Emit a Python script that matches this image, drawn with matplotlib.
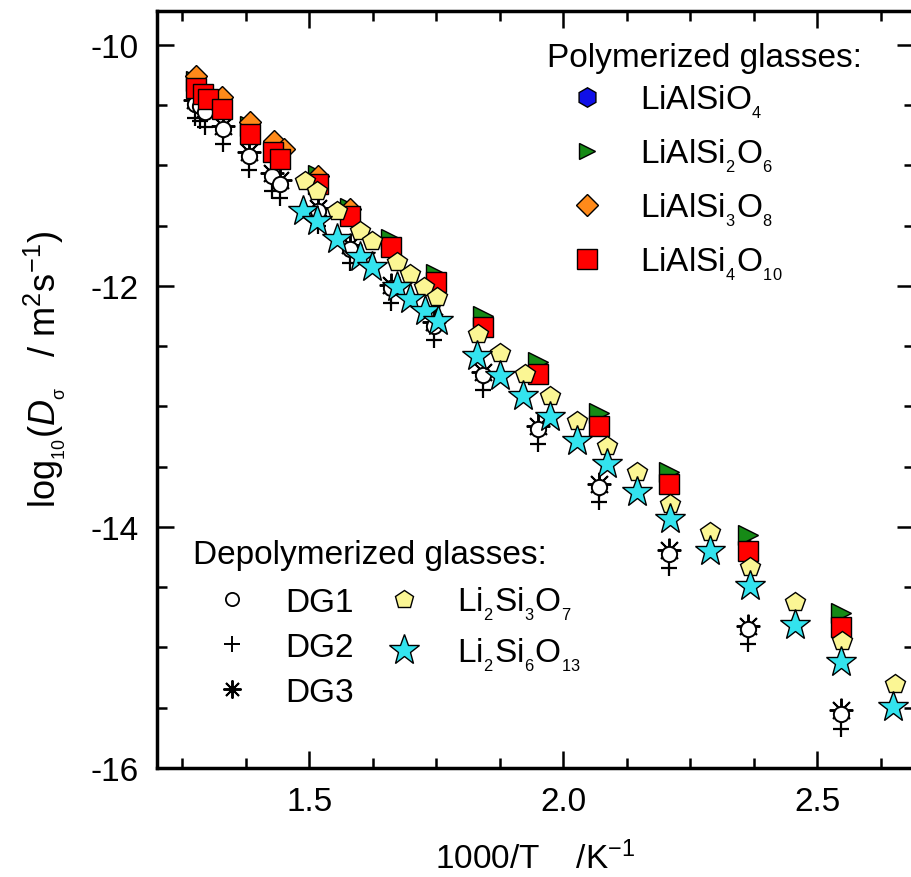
import matplotlib
matplotlib.use('Agg')
import matplotlib.pyplot as plt
from matplotlib.lines import Line2D
from matplotlib.ticker import MultipleLocator

plt.rcParams['font.family'] = ['Liberation Sans', 'DejaVu Sans']
plt.rcParams['mathtext.fontset'] = 'custom'
plt.rcParams['mathtext.rm'] = 'Liberation Sans'
plt.rcParams['mathtext.it'] = 'Liberation Sans:italic'
plt.rcParams['mathtext.default'] = 'regular'
plt.rcParams['axes.unicode_minus'] = False

# polymerized glasses
x_poly = [1.277, 1.328, 1.383, 1.443, 1.517, 1.580, 1.660, 1.750, 1.842, 1.950, 2.070, 2.207, 2.363, 2.546]
y_lialsio4 = [-10.32, -10.50, -10.71, -10.88, -11.13, -11.40, -11.66, -11.95, -12.32, -12.71, -13.14, -13.62, -14.18, -14.81]
y_lialsi2o6 = [-10.30, -10.46, -10.67, -10.84, -11.08, -11.35, -11.61, -11.90, -12.25, -12.63, -13.05, -13.54, -14.07, -14.71]
x_lialsi3o8 = [1.277, 1.328, 1.383, 1.430, 1.450, 1.517, 1.580]
y_lialsi3o8 = [-10.26, -10.43, -10.64, -10.80, -10.86, -11.09, -11.36]
x_lialsi4o10 = [1.277, 1.290, 1.300, 1.328, 1.383, 1.428, 1.443, 1.517, 1.580, 1.660, 1.750, 1.842, 1.950, 2.070, 2.207, 2.363, 2.546]
y_lialsi4o10 = [-10.36, -10.41, -10.45, -10.53, -10.74, -10.89, -10.95, -11.15, -11.42, -11.68, -11.97, -12.34, -12.73, -13.16, -13.64, -14.20, -14.83]

# depolymerized glasses
x_dg = [1.275, 1.285, 1.294, 1.330, 1.381, 1.426, 1.442, 1.517, 1.580, 1.660, 1.745, 1.842, 1.950, 2.070, 2.207, 2.363, 2.546]
y_dg1 = [-10.49, -10.51, -10.56, -10.70, -10.92, -11.09, -11.15, -11.38, -11.69, -12.02, -12.33, -12.74, -13.19, -13.67, -14.22, -14.85, -15.55]
y_dg2 = [-10.61, -10.63, -10.68, -10.82, -11.04, -11.21, -11.27, -11.50, -11.81, -12.14, -12.45, -12.86, -13.31, -13.79, -14.34, -14.97, -15.68]
y_dg3 = [-10.46, -10.48, -10.53, -10.67, -10.89, -11.06, -11.12, -11.35, -11.66, -11.99, -12.30, -12.71, -13.16, -13.64, -14.19, -14.82, -15.52]

x_li2si3o7 = [1.491, 1.515, 1.554, 1.600, 1.623, 1.672, 1.698, 1.726, 1.751, 1.832, 1.875, 1.924, 1.974, 2.027, 2.086, 2.145, 2.210, 2.289, 2.367, 2.456, 2.548, 2.653]
y_li2si3o7 = [-11.13, -11.21, -11.38, -11.54, -11.63, -11.80, -11.90, -12.01, -12.09, -12.40, -12.56, -12.73, -12.91, -13.12, -13.33, -13.54, -13.81, -14.04, -14.33, -14.62, -14.95, -15.30]
x_li2si6o13 = [1.487, 1.515, 1.554, 1.600, 1.623, 1.672, 1.698, 1.728, 1.753, 1.830, 1.875, 1.920, 1.974, 2.027, 2.086, 2.145, 2.210, 2.289, 2.367, 2.456, 2.546, 2.649]
y_li2si6o13 = [-11.38, -11.46, -11.61, -11.76, -11.84, -12.01, -12.11, -12.21, -12.29, -12.58, -12.75, -12.91, -13.09, -13.29, -13.48, -13.71, -13.93, -14.20, -14.49, -14.81, -15.12, -15.49]

fig = plt.figure(figsize=(9.11, 8.78), dpi=100)
ax = fig.add_axes([157/911, 109/878, 757/911, 757/878])

# DG glasses (asterisk under circle, plus below)
ax.plot(x_dg, y_dg3, ls='none', marker=(8, 2, 0), ms=17, mec='k', mew=1.4, zorder=2)
ax.plot(x_dg, y_dg2, ls='none', marker='+', ms=12, mec='k', mew=1.6, zorder=2)
ax.plot(x_dg, y_dg1, ls='none', marker='o', ms=11, mfc='white', mec='k', mew=1.4, zorder=3)

ax.plot(x_poly, y_lialsio4, ls='none', marker='h', ms=14, mfc='#1010e8', mec='k', mew=1.0, zorder=4)
ax.plot(x_poly, y_lialsi2o6, ls='none', marker='>', ms=14, mfc='#168a16', mec='k', mew=1.0, zorder=4)
ax.plot(x_lialsi3o8, y_lialsi3o8, ls='none', marker='D', ms=11.5, mfc='#ff8a1a', mec='k', mew=1.0, zorder=4)
ax.plot(x_lialsi4o10, y_lialsi4o10, ls='none', marker='s', ms=14.5, mfc='#ff0000', mec='k', mew=1.0, zorder=5)

ax.plot(x_li2si3o7, y_li2si3o7, ls='none', marker='p', ms=15, mfc='#fbf694', mec='k', mew=1.0, zorder=6)
ax.plot(x_li2si6o13, y_li2si6o13, ls='none', marker='*', ms=23, mfc='#33e3ee', mec='k', mew=1.0, zorder=7)

ax.set_xlim(1.2, 2.690)
ax.set_ylim(-16, -9.718)
ax.xaxis.set_major_locator(MultipleLocator(0.5))
ax.xaxis.set_minor_locator(MultipleLocator(0.125))
ax.yaxis.set_major_locator(MultipleLocator(2))
ax.yaxis.set_minor_locator(MultipleLocator(0.5))
ax.xaxis.set_major_formatter(matplotlib.ticker.FormatStrFormatter('%.1f'))
ax.yaxis.set_major_formatter(matplotlib.ticker.FormatStrFormatter('%d'))
ax.tick_params(which='both', direction='in', top=True, right=True, width=1.8, labelsize=24)
ax.tick_params(which='major', length=12.5)
ax.tick_params(which='minor', length=7)
ax.tick_params(axis='x', pad=13)
ax.tick_params(axis='y', pad=13)
for s in ax.spines.values():
    s.set_linewidth(2.5)

ax.set_xlabel('1000/T    /K$^{-1}$', fontsize=24, va='center')
ax.xaxis.set_label_coords(0.5, -0.119)
ax.set_ylabel(r'log$_{_{10}}$($\mathit{D}_{_\sigma}$   / m$^2$s$^{-1}$)', fontsize=26,
              va='center', ha='center')
ax.yaxis.set_label_coords(-0.148, 0.528)

# legends
poly_handles = [
    Line2D([], [], ls='none', marker='h', ms=14, mfc='#1010e8', mec='k', mew=1.0),
    Line2D([], [], ls='none', marker='>', ms=12, mfc='#168a16', mec='k', mew=1.0),
    Line2D([], [], ls='none', marker='D', ms=11.5, mfc='#ff8a1a', mec='k', mew=1.0),
    Line2D([], [], ls='none', marker='s', ms=14, mfc='#ff0000', mec='k', mew=1.0),
]
poly_labels = ['LiAlSiO$_{_4}$', 'LiAlSi$_{_2}$O$_{_6}$', 'LiAlSi$_{_3}$O$_{_8}$', 'LiAlSi$_{_4}$O$_{_{10}}$']
leg1 = ax.legend(poly_handles, poly_labels, loc='upper left', bbox_to_anchor=(0.5462, 0.905),
                 frameon=False, borderpad=0, borderaxespad=0, handlelength=1.0,
                 handletextpad=1.1, labelspacing=0.5, fontsize=24)
ax.add_artist(leg1)

dep_handles = [
    Line2D([], [], ls='none', marker='o', ms=9.5, mfc='white', mec='k', mew=1.3),
    Line2D([], [], ls='none', marker='+', ms=12, mec='k', mew=1.4),
    Line2D([], [], ls='none', marker=(8, 2, 0), ms=13, mec='k', mew=1.4),
    Line2D([], [], ls='none', marker='p', ms=13.5, mfc='#fbf694', mec='k', mew=1.0),
    Line2D([], [], ls='none', marker='*', ms=23, mfc='#33e3ee', mec='k', mew=1.0),
]
dep_labels = ['DG1', 'DG2', 'DG3', 'Li$_{_2}$Si$_{_3}$O$_{_7}$', 'Li$_{_2}$Si$_{_6}$O$_{_{13}}$']
ax.legend(dep_handles, dep_labels, ncol=2, loc='upper left', bbox_to_anchor=(0.0773, 0.242),
          frameon=False, borderpad=0, borderaxespad=0, handlelength=1.0,
          handletextpad=1.1, labelspacing=0.42, columnspacing=1.0, fontsize=24)

ax.text(0.5148, 0.9277, 'Polymerized glasses:', transform=ax.transAxes, fontsize=24,
        ha='left', va='baseline')
ax.text(0.048, 0.2704, 'Depolymerized glasses:', transform=ax.transAxes, fontsize=24,
        ha='left', va='baseline')

fig.savefig('out.png', dpi=100)
